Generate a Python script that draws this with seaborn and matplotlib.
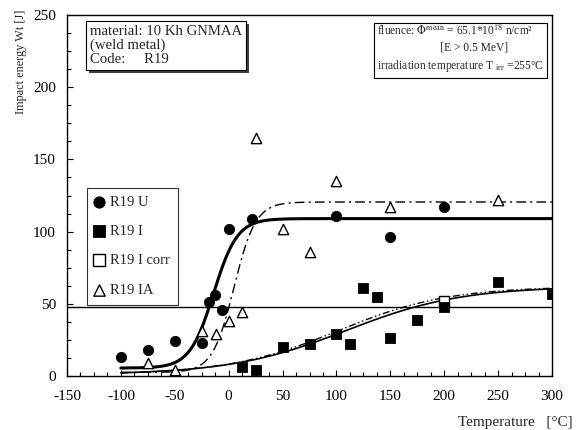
import numpy as np
import pandas as pd
import matplotlib
matplotlib.use("Agg")
import matplotlib.pyplot as plt
import matplotlib.patheffects as pe
from matplotlib.ticker import MultipleLocator
import seaborn as sns

# ---- data ----
u_temp = [-100, -75, -50, -25, -18, -13, -6, 0, 22, 100, 150, 200]
u_energy = [13, 18, 24, 23, 51, 56, 46, 102, 109, 111, 96, 117]

i_temp = [12, 25, 50, 75, 100, 113, 125, 138, 150, 175, 200, 250, 300]
i_energy = [6, 4, 20, 22, 29, 22, 61, 55, 26, 39, 48, 65, 57]

icorr_temp = [200]
icorr_energy = [52]

ia_temp = [-75, -50, -25, -12, 0, 12, 25, 50, 75, 100, 150, 250]
ia_energy = [9, 4, 31, 29, 38, 44, 165, 102, 86, 135, 117, 122]

# tanh fit parameters: lower shelf, upper shelf, T0, C
fit_u = dict(lower=5.5, upper=109, t0=-14, c=22)
fit_ia = dict(lower=2.5, upper=120.5, t0=5, c=20)
fit_i = dict(lower=1, upper=62, t0=109, c=107)
fit_icorr = dict(lower=1, upper=62, t0=102, c=102)

criterion = 48
x_ticks = [-150, -100, -50, 0, 50, 100, 150, 200, 250, 300]
y_ticks = [0, 50, 100, 150, 200, 250]


def tanh_curve(p, t):
    a = p["lower"]
    b = (p["upper"] - p["lower"]) / 2
    return a + b * (1 + np.tanh((t - p["t0"]) / p["c"]))


sns.set_style("ticks")
plt.rcParams["font.family"] = ["Liberation Serif", "DejaVu Serif"]
plt.rcParams["mathtext.fontset"] = "stix"
plt.rcParams["axes.unicode_minus"] = False

fig = plt.figure(figsize=(5.82, 4.30), dpi=100)
ax = fig.add_axes([67 / 582, 1 - 376 / 430, 485 / 582, 361 / 430])

t = np.linspace(-100, 300, 401)
curves = pd.DataFrame({
    "T": t,
    "U": tanh_curve(fit_u, t),
    "IA": tanh_curve(fit_ia, t),
    "I": tanh_curve(fit_i, t),
    "Icorr": tanh_curve(fit_icorr, t),
})

sns.lineplot(data=curves, x="T", y="Icorr", ax=ax, color="black", lw=1.0,
             linestyle=(0, (5, 2, 1, 2, 1, 2)))
sns.lineplot(data=curves, x="T", y="I", ax=ax, color="black", lw=1.2)
sns.lineplot(data=curves, x="T", y="IA", ax=ax, color="black", lw=1.0,
             linestyle=(0, (7, 3, 1.5, 3)))
sns.lineplot(data=curves, x="T", y="U", ax=ax, color="black", lw=2.2)

ax.axhline(criterion, color="black", lw=1.0)

ms = 55
sns.scatterplot(x=u_temp, y=u_energy, ax=ax, marker="o", s=ms, color="black",
                edgecolor="black", label="R19 U", zorder=5)
sns.scatterplot(x=i_temp, y=i_energy, ax=ax, marker="s", s=ms, color="black",
                edgecolor="black", label="R19 I", zorder=5)
sns.scatterplot(x=icorr_temp, y=icorr_energy, ax=ax, marker="s", s=ms,
                facecolor="white", edgecolor="black", linewidth=1.0,
                label="R19 I corr", zorder=4)
sns.scatterplot(x=ia_temp, y=ia_energy, ax=ax, marker="^", s=ms,
                facecolor="white", edgecolor="black", linewidth=1.0,
                label="R19 IA", zorder=5)

ax.set_xlim(-150, 300)
ax.set_ylim(0, 250)
ax.set_xticks(x_ticks)
ax.set_yticks(y_ticks)
ax.xaxis.set_minor_locator(MultipleLocator(12.5))
ax.yaxis.set_minor_locator(MultipleLocator(12.5))
ax.tick_params(which="both", direction="in", color="black", width=0.8,
               labelsize=11, labelcolor="black")
ax.tick_params(which="major", length=4)
ax.tick_params(which="minor", length=3)
ax.tick_params(axis="x", pad=10)
ax.tick_params(axis="y", pad=8)
for s in ax.spines.values():
    s.set_visible(True)
    s.set_color("black")
    s.set_linewidth(1.0)

ax.set_xlabel("")
ax.set_ylabel("Impact energy Wt [J]", fontsize=8.8, loc="top")
ax.yaxis.set_label_coords(-0.082, 1.014)
ax.text(1.042, -0.13, "Temperature   [°C]", transform=ax.transAxes,
        ha="right", va="center", fontsize=11)

leg = ax.legend(loc="upper left", bbox_to_anchor=(0.041, 0.522),
                borderaxespad=0, frameon=True, fancybox=False,
                edgecolor="black", fontsize=10.5, handlelength=0.6,
                handletextpad=0.45, labelspacing=1.1, borderpad=0.55,
                markerscale=1.1)
leg.get_frame().set_linewidth(0.8)

t1 = ax.text((90 - 67) / 485, (376 - 25) / 361,
             "material: 10 Kh GNMAA\n(weld metal)\nCode:     R19",
             transform=ax.transAxes, ha="left", va="top", fontsize=10.6,
             linespacing=1.08,
             bbox=dict(boxstyle="square,pad=0.25", fc="white", ec="black", lw=0.8))
t1.get_bbox_patch().set_path_effects(
    [pe.SimplePatchShadow(offset=(2, -2), shadow_rgbFace="0.25", alpha=1.0), pe.Normal()])

t2 = ax.text((377 - 67) / 485, (376 - 24) / 361,
             "fluence: $\\Phi^{\\rm mean}$ = 65.1*10$^{18}$ n/cm²\n"
             "                      [E > 0.5 MeV]\n"
             "irradiation temperature T $_{\\rm irr}$ =255°C",
             transform=ax.transAxes, ha="left", va="top", fontsize=8.3,
             linespacing=1.4,
             bbox=dict(boxstyle="square,pad=0.3", fc="white", ec="black", lw=0.8))

fig.savefig("out.png", dpi=100, facecolor="white")
